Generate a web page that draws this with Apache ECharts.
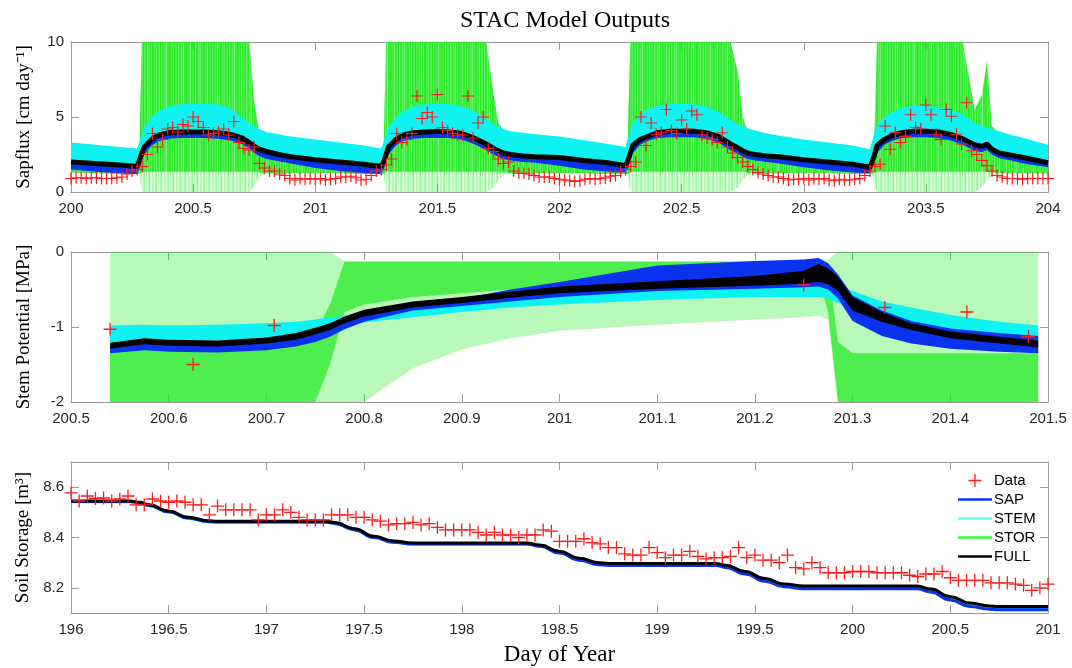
<!DOCTYPE html>
<html><head><meta charset="utf-8">
<script src="https://cdn.jsdelivr.net/npm/echarts@6/dist/echarts.min.js"></script>
<style>html,body{margin:0;padding:0;background:#fff}#c{width:1072px;height:668px}</style>
</head><body><div id="c"></div>
<script>
// ---------------- Panel 1: Sapflux ----------------
const sapT = [200,200.1,200.2,200.27,200.28,200.29,200.3,200.33,200.36,200.4,200.45,200.5,200.55,200.6,200.65,200.7,200.73,200.75,200.77,200.8,200.85,200.9,
201,201.1,201.2,201.27,201.28,201.29,201.3,201.33,201.36,201.4,201.45,201.5,201.55,201.6,201.65,201.7,201.73,201.75,201.77,201.8,201.85,201.9,
202,202.1,202.2,202.27,202.28,202.29,202.3,202.33,202.36,202.4,202.45,202.5,202.55,202.6,202.65,202.7,202.73,202.75,202.77,202.8,202.85,202.9,
203,203.1,203.2,203.27,203.28,203.29,203.3,203.33,203.36,203.4,203.45,203.5,203.55,203.6,203.65,203.7,203.73,203.75,203.77,203.8,203.85,203.9,
204];
const sapFull = [2.0,1.9,1.8,1.7,2.1,2.6,3.0,3.5,3.8,3.95,4.0,4.0,4.0,3.95,3.85,3.6,3.3,3.05,2.85,2.7,2.5,2.35,
2.15,2.0,1.85,1.7,2.0,2.5,3.0,3.5,3.8,3.95,4.0,4.05,4.0,3.9,3.6,3.2,2.9,2.75,2.6,2.5,2.4,2.35,
2.3,2.1,1.95,1.75,2.1,2.6,3.1,3.5,3.7,3.95,4.05,4.05,4.05,3.95,3.7,3.2,2.95,2.75,2.6,2.5,2.4,2.35,
2.15,2.0,1.85,1.65,2.0,2.5,3.1,3.5,3.75,3.95,4.05,4.05,4.0,3.85,3.55,3.15,3.05,3.2,2.85,2.6,2.45,2.3,
1.95];
const sapSapLo = [1.5,1.35,1.25,1.2,1.5,2.1,2.5,3.1,3.4,3.55,3.6,3.6,3.6,3.55,3.45,3.2,2.9,2.6,2.4,2.2,2.05,1.9,
1.6,1.4,1.25,1.2,1.5,2.0,2.5,3.1,3.4,3.55,3.6,3.6,3.6,3.5,3.2,2.8,2.5,2.35,2.2,2.1,2.0,1.95,
1.75,1.5,1.35,1.3,1.6,2.1,2.6,3.15,3.4,3.6,3.65,3.65,3.65,3.55,3.3,2.8,2.55,2.35,2.2,2.1,2.0,1.9,
1.65,1.45,1.3,1.25,1.55,2.1,2.6,3.15,3.4,3.6,3.65,3.65,3.6,3.45,3.15,2.75,2.65,2.8,2.5,2.25,2.1,1.9,
1.65];
const sapStemHi = [3.3,3.15,3.0,2.9,3.3,3.9,4.3,5.0,5.4,5.7,5.85,5.9,5.9,5.85,5.6,5.0,4.6,4.4,4.2,4.0,3.85,3.7,
3.5,3.3,3.1,2.9,3.3,3.9,4.3,5.0,5.4,5.7,5.85,5.9,5.85,5.7,5.4,4.9,4.5,4.35,4.2,4.05,3.95,3.85,
3.7,3.45,3.2,3.0,3.6,4.2,4.6,5.2,5.5,5.75,5.9,5.9,5.85,5.7,5.35,4.8,4.5,4.4,4.25,4.1,3.9,3.75,
3.5,3.3,3.1,2.85,3.4,4.0,4.4,5.0,5.35,5.6,5.75,5.75,5.65,5.5,5.2,4.6,4.4,4.3,4.2,4.05,3.8,3.6,
3.15];
const sapStorHi = [2.8,2.7,2.6,2.5,2.9,10,10,10,10,10,10,10,10,10,10,10,10,6.0,4.0,3.6,3.4,3.3,
3.2,3.0,2.8,2.6,3.0,10,10,10,10,10,10,10,10,10,10,10,6.5,4.6,4.1,3.9,3.7,3.6,
3.4,3.2,2.9,2.7,3.6,10,10,10,10,10,10,10,10,10,10,10,8.0,5.0,4.1,3.9,3.7,3.5,
3.3,3.1,2.9,2.6,3.0,4.0,10,10,10,10,10,10,10,10,10,5.5,6.5,8.7,4.4,3.9,3.6,3.4,
3.0];
const sapStorLo = [1.3,1.25,1.2,1.2,1.2,1.35,1.35,1.35,1.35,1.35,1.35,1.35,1.35,1.35,1.35,1.35,1.35,1.35,1.3,1.25,1.25,1.25,
1.25,1.25,1.2,1.2,1.2,1.35,1.35,1.35,1.35,1.35,1.35,1.35,1.35,1.35,1.35,1.35,1.35,1.35,1.3,1.25,1.25,1.25,
1.25,1.25,1.2,1.2,1.2,1.35,1.35,1.35,1.35,1.35,1.35,1.35,1.35,1.35,1.35,1.35,1.35,1.35,1.3,1.25,1.25,1.25,
1.25,1.25,1.2,1.2,1.2,1.3,1.35,1.35,1.35,1.35,1.35,1.35,1.35,1.35,1.35,1.35,1.35,1.35,1.3,1.25,1.25,1.25,
1.25];
const sapStorSparseLo = [1.3,1.25,1.2,1.2,1.2,0,0,0,0,0,0,0,0,0,0,0,0,0.4,1.0,1.25,1.25,1.25,
1.25,1.25,1.2,1.2,1.2,0,0,0,0,0,0,0,0,0,0,0,0.3,0.8,1.1,1.25,1.25,1.25,
1.25,1.25,1.2,1.2,1.2,0,0,0,0,0,0,0,0,0,0,0,0.3,0.8,1.1,1.25,1.25,1.25,
1.25,1.25,1.2,1.2,1.2,0.3,0,0,0,0,0,0,0,0,0,0,0.3,0.8,1.1,1.25,1.25,1.25,
1.25];
// half-hourly observations, 200.0 .. 204.0
const sapData = [
0.9,0.95,0.95,0.9,0.95,0.95,0.9,0.9,0.9,0.95,1.0,1.2,1.4,1.5,1.7,2.5,3.9,3.0,3.5,4.2,4.3,4.0,4.5,4.4,5.0,4.7,4.3,3.8,3.9,4.0,4.2,3.8,4.7,3.3,2.9,2.8,3.0,1.9,1.6,1.4,1.4,1.2,1.1,0.9,0.8,0.9,0.85,0.9,
0.85,0.9,0.8,0.85,0.9,1.0,1.0,1.05,0.95,0.8,0.85,1.1,1.4,1.5,1.8,2.2,3.9,3.3,3.5,3.9,6.4,4.9,5.3,5.0,6.5,4.3,4.1,3.9,3.8,3.8,6.4,3.6,4.6,5.0,2.9,2.7,2.2,1.9,2.0,1.4,1.25,1.25,1.2,1.1,1.0,1.0,1.0,0.9,
0.85,0.8,0.75,0.7,0.75,0.85,0.9,0.85,0.9,0.95,1.05,1.1,1.35,1.5,1.7,2.0,5.0,3.1,4.6,3.85,3.95,5.5,4.1,3.9,4.8,4.2,5.4,5.15,3.8,3.6,3.5,3.3,3.95,3.0,2.6,2.3,2.0,1.7,1.5,1.3,1.2,1.1,1.0,1.0,0.9,0.8,0.85,0.85,
0.9,0.8,0.9,0.85,0.9,0.8,0.75,0.85,0.8,0.8,0.85,0.9,1.1,1.4,1.7,1.85,4.4,2.85,3.95,3.3,3.7,5.15,4.3,4.2,5.8,5.15,3.85,3.5,5.5,5.05,3.85,3.2,5.95,2.75,2.5,2.1,1.75,1.4,1.1,1.0,0.9,0.9,0.9,0.85,0.9,0.9,0.9,0.9,
0.9];
const sapDataStart = 200, sapDataStep = 1/48;

// ---------------- Panel 2: Stem potential ----------------
const stemT = [200.54,200.575,200.6,200.65,200.7,200.73,200.75,200.765,200.78,200.8,200.85,200.9,200.95,201.0,201.1,201.2,201.25,201.265,201.275,201.285,201.3,201.33,201.36,201.4,201.45,201.49];
const stemFullHi = [-1.21,-1.15,-1.17,-1.18,-1.14,-1.08,-1.01,-0.95,-0.86,-0.77,-0.66,-0.6,-0.53,-0.46,-0.39,-0.32,-0.25,-0.16,-0.22,-0.33,-0.6,-0.8,-0.95,-1.06,-1.13,-1.18];
const stemFullLo = [-1.29,-1.23,-1.25,-1.26,-1.22,-1.17,-1.1,-1.04,-0.95,-0.86,-0.74,-0.68,-0.61,-0.55,-0.49,-0.45,-0.42,-0.4,-0.43,-0.52,-0.78,-0.93,-1.04,-1.15,-1.22,-1.27];
const stemSapHi = [-1.27,-1.21,-1.23,-1.24,-1.2,-1.14,-1.07,-1.0,-0.92,-0.83,-0.71,-0.62,-0.5,-0.4,-0.18,-0.12,-0.1,-0.08,-0.15,-0.3,-0.58,-0.78,-0.92,-1.02,-1.08,-1.12];
const stemSapLo = [-1.35,-1.31,-1.33,-1.34,-1.31,-1.26,-1.2,-1.13,-1.03,-0.93,-0.78,-0.72,-0.66,-0.6,-0.52,-0.49,-0.47,-0.46,-0.5,-0.62,-0.92,-1.12,-1.22,-1.29,-1.33,-1.35];
const stemStemHi = [-0.98,-0.97,-0.98,-0.97,-0.95,-0.93,-0.9,-0.87,-0.85,-0.82,-0.76,-0.68,-0.62,-0.56,-0.5,-0.46,-0.44,-0.4,-0.4,-0.46,-0.52,-0.66,-0.74,-0.84,-0.93,-0.98];
const stemStemLo = [-1.21,-1.15,-1.17,-1.18,-1.14,-1.1,-1.05,-1.0,-0.97,-0.94,-0.87,-0.8,-0.74,-0.7,-0.64,-0.6,-0.6,-0.6,-0.62,-0.68,-0.7,-0.84,-0.95,-1.05,-1.12,-1.16];
const stemStorHi = [0,0,0,0,0,0,0,0,-0.12,-0.12,-0.12,-0.12,-0.12,-0.12,-0.12,-0.12,-0.12,-0.1,-0.1,0,0,0,0,0,0,0];
const stemStorLo = [-2,-2,-2,-2,-2,-2,-2,-2,-2,-2,-1.55,-1.3,-1.15,-1.05,-0.97,-0.9,-0.87,-0.85,-0.9,-2,-2,-2,-2,-2,-2,-2];
const stemStorDenseHi = [-1.3,-1.3,-1.33,-1.33,-1.3,-1.25,-1.1,-0.7,-0.13,-0.13,-0.13,-0.13,-0.13,-0.13,-0.13,-0.13,-0.13,-0.13,-0.2,-1.2,-1.35,-1.35,-1.35,-1.35,-1.35,-1.35];
const stemStorDenseLo = [-2,-2,-2,-2,-2,-2,-2,-1.5,-0.8,-0.7,-0.6,-0.55,-0.5,-0.45,-0.4,-0.35,-0.35,-0.35,-0.8,-2,-2,-2,-2,-2,-2,-2];
const stemDataT = [200.54,200.625,200.708,201.25,201.333,201.417,201.48];
const stemData = [-1.03,-1.5,-0.98,-0.44,-0.74,-0.8,-1.13];

// ---------------- Panel 3: Soil storage ----------------
const soilT = [196,196.3,196.35,196.4,196.5,196.6,196.7,196.75,197.3,197.35,197.45,197.55,197.65,197.75,198.33,198.4,198.5,198.6,198.7,198.75,199.3,199.35,199.45,199.55,199.65,199.75,200.33,200.4,200.5,200.6,200.7,200.75,201];
const soilFull = [8.545,8.545,8.54,8.53,8.505,8.48,8.467,8.465,8.465,8.46,8.435,8.405,8.386,8.378,8.378,8.37,8.345,8.318,8.3,8.297,8.297,8.29,8.265,8.237,8.215,8.207,8.207,8.195,8.165,8.14,8.128,8.126,8.126];
const soilSap = [8.543,8.543,8.538,8.527,8.502,8.477,8.464,8.462,8.462,8.456,8.431,8.4,8.381,8.374,8.374,8.365,8.338,8.31,8.292,8.289,8.289,8.281,8.255,8.226,8.204,8.196,8.196,8.183,8.152,8.126,8.115,8.113,8.113];
const soilStem = [8.541,8.541,8.536,8.525,8.5,8.475,8.462,8.46,8.46,8.455,8.43,8.4,8.381,8.373,8.373,8.365,8.34,8.312,8.294,8.291,8.291,8.284,8.258,8.23,8.208,8.2,8.2,8.188,8.157,8.132,8.12,8.118,8.118];
const soilStor = [8.545,8.545,8.54,8.53,8.505,8.48,8.467,8.465,8.465,8.46,8.435,8.405,8.386,8.378,8.378,8.37,8.345,8.318,8.3,8.297,8.297,8.29,8.265,8.237,8.215,8.207,8.207,8.195,8.165,8.14,8.128,8.126,8.126];
// hourly observations, 196.0 .. 201.0
const soilData = [8.577,8.545,8.565,8.555,8.557,8.545,8.553,8.565,8.53,8.53,8.553,8.545,8.54,8.545,8.54,8.53,8.53,8.49,8.525,8.51,8.51,8.51,8.51,8.47,8.49,8.49,8.51,8.5,8.48,8.47,8.47,8.47,8.49,8.49,8.49,8.48,8.48,8.47,8.465,8.45,8.455,8.455,8.46,8.45,8.455,8.44,8.43,8.43,8.43,8.43,8.42,8.41,8.42,8.41,8.41,8.40,8.41,
8.41,8.43,8.425,8.385,8.385,8.385,8.395,8.38,8.375,8.36,8.36,8.335,8.33,8.33,8.36,8.34,8.32,8.33,8.33,8.345,8.325,8.315,8.32,8.32,8.325,8.36,8.32,8.33,8.31,8.31,8.30,8.33,8.28,8.275,8.30,8.28,8.26,8.26,8.26,8.265,8.265,8.265,8.26,8.26,8.26,8.26,8.25,8.245,8.255,8.255,8.265,8.24,8.23,8.23,8.23,8.23,8.22,8.22,8.22,8.215,8.21,8.19,8.20,8.215];
const soilDataStart = 196, soilDataStep = 1/24;

const soilTicks = [8.2, 8.4, 8.6];

// ---------------- styling ----------------
const GREEN = '#22ea22', CYAN = '#0ef2f2', BLUE = '#0a33f0', BLACK = '#000000', RED = '#ff1a1a';
const AX = '#9a9a9a', LBL = '#262626';
const PLUS = 'path://M4.5,0H5.5V4.5H10V5.5H5.5V10H4.5V5.5H0V4.5H4.5Z';
const LINEICON = 'path://M0,0H34V2.4H0Z';

// subtle streak textures imitating many overlapping ensemble lines
function streaks(alphas, color) {
  const c = document.createElement('canvas');
  c.width = alphas.length; c.height = 6;
  const ctx = c.getContext('2d');
  ctx.fillStyle = color;
  alphas.forEach((a, i) => { ctx.globalAlpha = a; ctx.fillRect(i, 0, 1, 6); });
  return { image: c, repeat: 'repeat' };
}
const P1_DENSE = streaks([0.9,0.75,0.85,0.55,0.95,0.8,0.7,1,0.6,0.85,0.9,0.65,0.8,0.5,0.9,0.75,0.95], GREEN);
const P1_SPARSE = streaks([0.45,0.15,0.3,0.1,0.35,0.5,0.2,0.1,0.4,0.25,0.15,0.35], GREEN);

function pairs(xs, ys) { return xs.map((x, i) => [x, ys[i]]); }
function regPairs(start, step, ys) { return ys.map((y, i) => [start + i * step, y]); }
function fmt(v) { return String(Math.round(v * 10) / 10); }

function band(name, xs, hi, lo, ai, fill, opacity) {
  return {
    type: 'custom', name: name, xAxisIndex: ai, yAxisIndex: ai, clip: true, silent: true,
    data: [[xs[0], hi[0]]],
    renderItem: function (params, api) {
      const pts = [];
      for (let i = 0; i < xs.length; i++) pts.push(api.coord([xs[i], hi[i]]));
      for (let i = xs.length - 1; i >= 0; i--) pts.push(api.coord([xs[i], lo[i]]));
      return { type: 'polygon', shape: { points: pts }, style: { fill: fill, opacity: opacity } };
    }
  };
}
function mkX(gi, min, max, iv, top, extra) {
  return Object.assign({
    type: 'value', gridIndex: gi, min: min, max: max, interval: iv, position: top ? 'top' : 'bottom',
    axisLine: { show: true, onZero: false, lineStyle: { color: AX, width: 1 } },
    axisTick: { show: true, inside: true, length: 8, lineStyle: { color: AX } },
    axisLabel: { show: !top, formatter: fmt, color: LBL, fontFamily: 'Liberation Sans', fontSize: 15, margin: 9 },
    splitLine: { show: false }
  }, extra || {});
}
function mkY(gi, min, max, iv, right, extra) {
  return Object.assign({
    type: 'value', gridIndex: gi, min: min, max: max, interval: iv, position: right ? 'right' : 'left',
    axisLine: { show: true, onZero: false, lineStyle: { color: AX, width: 1 } },
    axisTick: { show: true, inside: true, length: 8, lineStyle: { color: AX } },
    axisLabel: { show: !right, formatter: fmt, color: LBL, fontFamily: 'Liberation Sans', fontSize: 15, margin: 7 },
    splitLine: { show: false }
  }, extra || {});
}
const yName = (n) => ({ name: n, nameLocation: 'middle', nameGap: 37,
  nameTextStyle: { fontFamily: 'Liberation Serif', fontSize: 19, color: '#000' } });

const xAxes = [
  mkX(0, 200, 204, 0.5, false), mkX(0, 200, 204, 0.5, true),
  mkX(1, 200.5, 201.5, 0.1, false), mkX(1, 200.5, 201.5, 0.1, true),
  mkX(2, 196, 201, 0.5, false, { name: 'Day of Year', nameLocation: 'middle', nameGap: 30,
    nameTextStyle: { fontFamily: 'Liberation Serif', fontSize: 23, color: '#000' } }),
  mkX(2, 196, 201, 0.5, true)
];
const soilTickOpts = {
  axisTick: { show: true, inside: true, length: 8, lineStyle: { color: AX }, customValues: soilTicks },
};
const yAxes = [
  mkY(0, 0, 10, 5, false, yName('Sapflux [cm day\u207B\u00B9]')), mkY(0, 0, 10, 5, true),
  mkY(1, -2, 0, 1, false, yName('Stem Potential [MPa]')), mkY(1, -2, 0, 1, true),
  mkY(2, 8.1, 8.7, null, false, Object.assign(yName('Soil Storage [m\u00B3]'), soilTickOpts, {
    axisLabel: { show: true, formatter: fmt, color: LBL, fontFamily: 'Liberation Sans', fontSize: 15, margin: 7, customValues: soilTicks } })),
  mkY(2, 8.1, 8.7, null, true, Object.assign({}, soilTickOpts, { axisLabel: { show: false, customValues: soilTicks } }))
];

function lineS(name, data, ai, color, width) {
  return { type: 'line', name: name, xAxisIndex: ai, yAxisIndex: ai, data: data, showSymbol: false, symbol: 'none',
    lineStyle: { color: color, width: width }, itemStyle: { color: color }, silent: true, clip: true };
}
function scatterS(data, ai, size) {
  return { type: 'scatter', name: 'Data', xAxisIndex: ai, yAxisIndex: ai, data: data, symbol: PLUS,
    symbolSize: size, itemStyle: { color: RED, opacity: 1 }, silent: true, z: 5 };
}

const series = [
  // panel 1
  band('p1StorSparse', sapT, sapStorHi, sapStorSparseLo, 0, P1_SPARSE, 1),
  band('p1StorDense', sapT, sapStorHi, sapStorLo, 0, P1_DENSE, 1),
  band('p1Stem', sapT, sapStemHi, sapFull, 0, CYAN, 1),
  band('p1Sap', sapT, sapFull, sapSapLo, 0, BLUE, 1),
  lineS('p1Full', pairs(sapT, sapFull), 0, BLACK, 5),
  scatterS(regPairs(sapDataStart, sapDataStep, sapData), 0, 12),
  // panel 2
  band('p2StorSparse', stemT, stemStorHi, stemStorLo, 1, GREEN, 0.32),
  band('p2StorDense', stemT, stemStorDenseHi, stemStorDenseLo, 1, GREEN, 0.7),
  band('p2Stem', stemT, stemStemHi, stemStemLo, 1, CYAN, 1),
  band('p2Sap', stemT, stemSapHi, stemSapLo, 1, BLUE, 1),
  band('p2Full', stemT, stemFullHi, stemFullLo, 1, BLACK, 1),
  scatterS(pairs(stemDataT, stemData), 1, 13),
  // panel 3
  Object.assign(lineS('STOR', pairs(soilT, soilStor), 2, GREEN, 2), { smooth: 0.5, smoothMonotone: 'x' }),
  Object.assign(lineS('STEM', pairs(soilT, soilStem), 2, CYAN, 2.5), { smooth: 0.5, smoothMonotone: 'x' }),
  Object.assign(lineS('SAP', pairs(soilT, soilSap), 2, BLUE, 3), { smooth: 0.5, smoothMonotone: 'x' }),
  Object.assign(lineS('FULL', pairs(soilT, soilFull), 2, BLACK, 3), { smooth: 0.5, smoothMonotone: 'x' }),
  scatterS(regPairs(soilDataStart, soilDataStep, soilData), 2, 13)
];
// panel n uses xAxis 2n / yAxis 2n
series.forEach(s => { s.xAxisIndex = s.xAxisIndex * 2; s.yAxisIndex = s.yAxisIndex * 2; });

const chart = echarts.init(document.getElementById('c'), null, { renderer: 'canvas' });
chart.setOption({
  backgroundColor: '#ffffff',
  animation: false,
  title: { text: 'STAC Model Outputs', left: 560, top: 4, textAlign: 'center',
    textStyle: { fontFamily: 'Liberation Serif', fontSize: 24, fontWeight: 'normal', color: '#000' } },
  grid: [
    { left: 71, top: 42, width: 977, height: 150 },
    { left: 71, top: 252, width: 977, height: 150 },
    { left: 71, top: 462, width: 977, height: 151 }
  ],
  legend: {
    orient: 'vertical', left: 958, top: 473, padding: 0, itemWidth: 34, itemHeight: 13, itemGap: 4,
    selectedMode: false, symbolKeepAspect: true,
    textStyle: { fontFamily: 'Liberation Sans', fontSize: 15, color: '#000', padding: [0, 0, 0, -3] },
    data: [
      { name: 'Data', icon: PLUS, itemStyle: { color: RED } },
      { name: 'SAP', icon: LINEICON, itemStyle: { color: BLUE } },
      { name: 'STEM', icon: LINEICON, itemStyle: { color: '#66ffff' } },
      { name: 'STOR', icon: LINEICON, itemStyle: { color: '#33ff33' } },
      { name: 'FULL', icon: LINEICON, itemStyle: { color: BLACK } }
    ]
  },
  xAxis: xAxes,
  yAxis: yAxes,
  series: series
});
</script></body></html>
